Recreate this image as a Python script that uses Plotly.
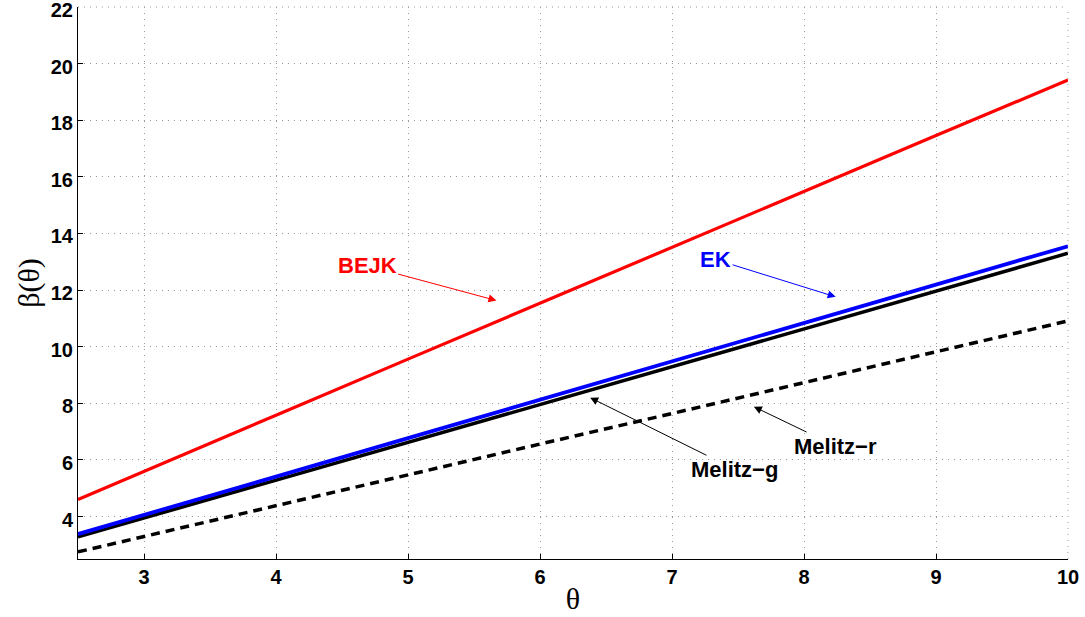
import plotly.graph_objects as go

theta = [2.5, 3, 4, 5, 6, 7, 8, 9, 10]
bejk = [4.60, 5.60, 7.58, 9.56, 11.54, 13.52, 15.50, 17.46, 19.42]
ek = [3.38, 4.05, 5.41, 6.77, 8.13, 9.49, 10.84, 12.20, 13.55]
melitz_g = [3.28, 3.95, 5.29, 6.62, 7.96, 9.29, 10.63, 11.96, 13.30]
melitz_r = [2.75, 3.29, 4.38, 5.47, 6.56, 7.64, 8.73, 9.82, 10.91]

x_ticks = [3, 4, 5, 6, 7, 8, 9, 10]
y_ticks = [4, 6, 8, 10, 12, 14, 16, 18, 20, 22]

fig = go.Figure()
fig.add_trace(go.Scatter(x=theta, y=melitz_r, mode="lines",
                         line=dict(color="black", width=3.5, dash="9px,6px")))
fig.add_trace(go.Scatter(x=theta, y=melitz_g, mode="lines",
                         line=dict(color="black", width=3.5)))
fig.add_trace(go.Scatter(x=theta, y=ek, mode="lines",
                         line=dict(color="#0000ff", width=3.8)))
fig.add_trace(go.Scatter(x=theta, y=bejk, mode="lines",
                         line=dict(color="#ff0000", width=3.2)))

ann_font = dict(family="Liberation Sans, Arial, sans-serif", size=22, weight="bold")
annots = [
    ("BEJK", "#ff0000", 5.67, 11.63, 4.69, 12.86),
    ("EK", "#0000ff", 8.24, 11.76, 7.33, 13.08),
    ("Melitz\u2212g", "black", 6.38, 8.20, 7.475, 5.67),
    ("Melitz\u2212r", "black", 7.62, 7.88, 8.24, 6.49),
]
for txt, col, hx, hy, tx, ty in annots:
    fig.add_annotation(x=hx, y=hy, ax=tx, ay=ty, axref="x", ayref="y",
                       xref="x", yref="y", text=txt, showarrow=True,
                       arrowhead=2, arrowsize=1.6, arrowwidth=1, arrowcolor=col,
                       font=dict(color=col, **ann_font))

# dotted frame lines at the top and right edges (grid at range limits)
fig.add_shape(type="line", xref="paper", yref="paper", x0=0, x1=1, y0=1, y1=1,
              line=dict(color="#999999", width=1, dash="1px,5px"))
fig.add_shape(type="line", xref="paper", yref="paper", x0=1, x1=1, y0=0, y1=1,
              line=dict(color="#999999", width=1, dash="1px,5px"))

axis_common = dict(
    showline=True, linecolor="black", linewidth=1,
    ticks="inside", ticklen=5, tickcolor="black",
    showgrid=True, gridcolor="#999999", griddash="1px,5px", gridwidth=1,
    zeroline=False, mirror=False, automargin=False,
    ticklabeloverflow="allow",
    tickfont=dict(family="Liberation Sans, Arial, sans-serif", size=20,
                  color="black", weight="bold"),
)

fig.update_layout(
    width=1085, height=617,
    margin=dict(l=78, r=17, t=7, b=58),
    plot_bgcolor="white", paper_bgcolor="white",
    showlegend=False,
    xaxis=dict(range=[2.5, 10], tickvals=x_ticks,
               title=dict(text="\u03b8", standoff=0,
                          font=dict(family="Liberation Serif, Times New Roman, serif",
                                    size=30, color="black")),
               **axis_common),
    yaxis=dict(range=[2.5, 22], tickvals=y_ticks, ticklabelshift=3,
               title=dict(text="\u03b2(\u03b8)", standoff=2,
                          font=dict(family="Liberation Serif, Times New Roman, serif",
                                    size=30, color="black")),
               **axis_common),
)

fig.write_html("out.html", config={"displayModeBar": False},
               post_script="document.body.style.margin='0';document.body.style.overflow='hidden';")
